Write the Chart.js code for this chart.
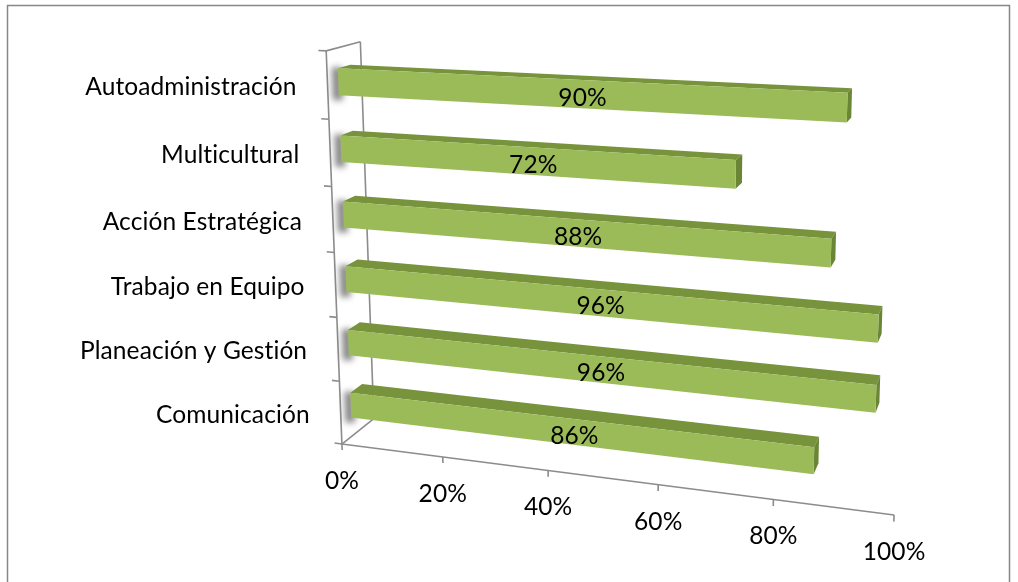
<!DOCTYPE html>
<html>
<head>
<meta charset="utf-8">
<script src="https://cdn.jsdelivr.net/npm/chart.js@4.4.1/dist/chart.umd.min.js"></script>
<style>
  html, body { margin: 0; padding: 0; background: #fff; }
  #wrap { position: relative; width: 1018px; height: 582px; }
</style>
</head>
<body>
<div id="wrap"><canvas id="grafico_barras"></canvas></div>
<script>
var categorias = ['Autoadministración', 'Multicultural', 'Acción Estratégica', 'Trabajo en Equipo', 'Planeación y Gestión', 'Comunicación'];
var porcentajes = [90, 72, 88, 96, 96, 86];
var marcasX = [0, 20, 40, 60, 80, 100];
var etiquetasX = ['0%', '20%', '40%', '60%', '80%', '100%'];

// vista 3D: esquinas del plano frontal de las barras, punto de fuga y profundidades
var plano = { bl: [352, 436], br: [897, 505], tr: [912, 73], tl: [337, 48] };
var fuga = [1088, -150];
var kProf = 0.0135;
var zPared = -1, zFondo = 2.26, zBarra = 1.2;
var fuente = '24.5px Lato, "Open Sans", sans-serif';

function homografia(q) {
  var x0 = q.bl[0], y0 = q.bl[1], x1 = q.br[0], y1 = q.br[1];
  var x2 = q.tr[0], y2 = q.tr[1], x3 = q.tl[0], y3 = q.tl[1];
  var dx1 = x1 - x2, dx2 = x3 - x2, dx3 = x0 - x1 + x2 - x3;
  var dy1 = y1 - y2, dy2 = y3 - y2, dy3 = y0 - y1 + y2 - y3;
  var den = dx1 * dy2 - dx2 * dy1;
  var g = (dx3 * dy2 - dx2 * dy3) / den;
  var h = (dx1 * dy3 - dx3 * dy1) / den;
  return { a: x1 - x0 + g * x1, b: x3 - x0 + h * x3, c: x0,
           d: y1 - y0 + g * y1, e: y3 - y0 + h * y3, f: y0, g: g, h: h };
}
var H = homografia(plano);

function proyectar(u, v, z) {
  var kz = kProf * z;
  var w = H.g * u + H.h * v + 1 + kz;
  return [(H.a * u + H.b * v + H.c + kz * fuga[0]) / w,
          (H.d * u + H.e * v + H.f + kz * fuga[1]) / w];
}

function poligono(ctx, pts, color) {
  ctx.beginPath();
  ctx.moveTo(pts[0][0], pts[0][1]);
  for (var i = 1; i < pts.length; i++) ctx.lineTo(pts[i][0], pts[i][1]);
  ctx.closePath();
  ctx.fillStyle = color;
  ctx.fill();
}

function linea(ctx, a, b) {
  ctx.beginPath();
  ctx.moveTo(a[0], a[1]);
  ctx.lineTo(b[0], b[1]);
  ctx.stroke();
}

function texto(ctx) {
  ctx.fillStyle = '#000';
  ctx.font = fuente;
  ctx.letterSpacing = '0.1px';
  ctx.textBaseline = 'middle';
}

var vista3d = {
  id: 'vista3d',
  beforeDatasetsDraw: function(chart) {
    var ctx = chart.ctx, area = chart.chartArea;
    var xs = chart.scales.x, ys = chart.scales.y;
    var U = function(px) { return (px - area.left) / (area.right - area.left); };
    var V = function(py) { return (area.bottom - py) / (area.bottom - area.top); };

    ctx.save();
    // marco exterior
    ctx.strokeStyle = '#878787';
    ctx.lineWidth = 1.5;
    ctx.strokeRect(7.5, 5.5, 1002, 700);

    // pared lateral y piso
    ctx.strokeStyle = '#8c8c8c';
    ctx.lineWidth = 1.6;
    linea(ctx, proyectar(0, 0, zFondo), proyectar(0, 1, zFondo));
    linea(ctx, proyectar(0, 1, zPared), proyectar(0, 1, zFondo));
    linea(ctx, proyectar(0, 0, zPared), proyectar(0, 0, zFondo));
    linea(ctx, proyectar(0, 0, zPared), proyectar(0, 1, zPared));

    // barras
    var meta = chart.getDatasetMeta(0);
    meta.data.forEach(function(el, i) {
      var p = el.getProps(['x', 'y', 'base', 'height'], true);
      var u0 = U(p.base), u1 = U(p.x);
      var vT = V(p.y - p.height / 2), vB = V(p.y + p.height / 2);

      // sombra difusa del extremo izquierdo
      ctx.save();
      ctx.filter = 'blur(3px)';
      var a = proyectar(u0, vB, 0), b = proyectar(u0, vT, 0);
      poligono(ctx, [[a[0] - 6, a[1] + 5], [b[0] - 6, b[1] - 1], [b[0] + 4, b[1] - 1], [a[0] + 4, a[1] + 5]], 'rgba(95,95,95,0.75)');
      ctx.restore();

      poligono(ctx, [proyectar(u0, vT, 0), proyectar(u1, vT, 0), proyectar(u1, vT, zBarra), proyectar(u0, vT, zBarra)], '#77933c');
      poligono(ctx, [proyectar(u1, vB, 0), proyectar(u1, vT, 0), proyectar(u1, vT, zBarra), proyectar(u1, vB, zBarra)], '#6a8534');
      poligono(ctx, [proyectar(u0, vB, 0), proyectar(u1, vB, 0), proyectar(u1, vT, 0), proyectar(u0, vT, 0)], '#9bbb59');

      var c = proyectar((u0 + u1) / 2, (vT + vB) / 2, 0);
      texto(ctx);
      ctx.textAlign = 'center';
      ctx.fillText(porcentajes[i] + '%', c[0] + 3, c[1] + 4);
    });

    // eje de valores con marcas
    ctx.strokeStyle = '#8c8c8c';
    ctx.lineWidth = 1.6;
    linea(ctx, proyectar(0, 0, zPared), proyectar(1, 0, zPared));
    texto(ctx);
    ctx.textAlign = 'center';
    marcasX.forEach(function(m, i) {
      var u = U(xs.getPixelForValue(m));
      var p = proyectar(u, 0, zPared);
      linea(ctx, p, proyectar(u, -0.016, zPared));
      ctx.fillText(etiquetasX[i], p[0], p[1] + 37);
    });

    // eje de categorias
    var banda = (area.bottom - area.top) / categorias.length;
    for (var k = 0; k <= categorias.length; k++) {
      var v = V(area.top + k * banda);
      linea(ctx, proyectar(0, v, zPared), proyectar(-0.015, v, zPared));
    }
    ctx.textAlign = 'right';
    categorias.forEach(function(nombre, i) {
      var p = proyectar(0, V(ys.getPixelForValue(i)), zPared);
      ctx.fillText(nombre, p[0] - 31, p[1] + 2);
    });
    ctx.restore();
    return false;
  }
};

new Chart(document.getElementById('grafico_barras'), {
  type: 'bar',
  data: {
    labels: categorias,
    datasets: [{
      label: 'Porcentaje',
      data: porcentajes,
      backgroundColor: '#9bbb59',
      barPercentage: 0.4,
      categoryPercentage: 1
    }]
  },
  options: {
    indexAxis: 'y',
    responsive: true,
    maintainAspectRatio: false,
    animation: false,
    events: [],
    layout: { padding: 0 },
    plugins: { legend: { display: false }, tooltip: { enabled: false } },
    scales: {
      x: { display: false, min: 0, max: 100 },
      y: { display: false }
    }
  },
  plugins: [vista3d]
});
</script>
</body>
</html>
